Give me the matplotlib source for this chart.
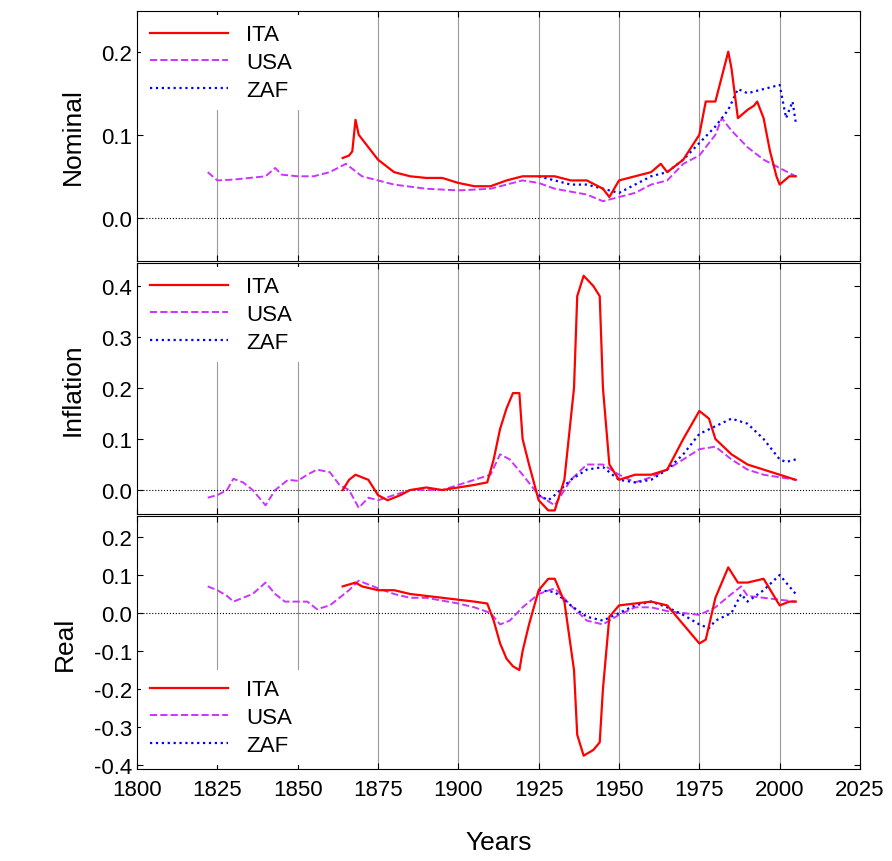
import matplotlib
matplotlib.use("Agg")
import matplotlib.pyplot as plt

plt.rcParams['font.family'] = ['Liberation Sans', 'DejaVu Sans']

# ---- Nominal ----
nom_usa_x = [1822,1825,1830,1835,1840,1843,1845,1850,1855,1860,1865,1870,1875,1880,1890,1900,1910,1920,1925,1930,1940,1945,1950,1955,1960,1965,1970,1975,1980,1982,1985,1990,1995,2000,2005]
nom_usa_y = [0.055,0.045,0.046,0.048,0.05,0.06,0.052,0.05,0.05,0.055,0.065,0.05,0.045,0.04,0.035,0.033,0.035,0.045,0.042,0.035,0.028,0.02,0.025,0.03,0.04,0.045,0.065,0.075,0.1,0.12,0.105,0.085,0.07,0.06,0.05]
nom_ita_x = [1864,1866,1867,1868,1869,1870,1875,1880,1885,1890,1895,1900,1905,1910,1915,1920,1925,1930,1935,1940,1945,1947,1950,1955,1960,1963,1965,1970,1975,1977,1980,1982,1984,1985,1987,1990,1992,1993,1995,1997,1999,2000,2003,2005]
nom_ita_y = [0.072,0.075,0.08,0.118,0.1,0.095,0.07,0.055,0.05,0.048,0.048,0.042,0.038,0.038,0.045,0.05,0.05,0.05,0.045,0.045,0.035,0.025,0.045,0.05,0.055,0.065,0.055,0.07,0.1,0.14,0.14,0.17,0.2,0.18,0.12,0.13,0.135,0.14,0.12,0.08,0.05,0.04,0.05,0.05]
nom_zaf_x = [1925,1930,1935,1940,1945,1950,1955,1960,1965,1970,1975,1980,1984,1987,1990,1995,2000,2002,2004,2005]
nom_zaf_y = [0.05,0.045,0.04,0.04,0.035,0.03,0.04,0.05,0.055,0.07,0.09,0.11,0.13,0.155,0.15,0.155,0.16,0.12,0.14,0.115]

# ---- Inflation ----
inf_usa_x = [1822,1825,1828,1830,1833,1836,1840,1843,1847,1850,1853,1856,1860,1863,1866,1869,1872,1875,1880,1885,1890,1895,1900,1905,1910,1913,1916,1920,1925,1930,1935,1940,1945,1950,1955,1960,1965,1970,1975,1980,1985,1990,1995,2000,2005]
inf_usa_y = [-0.015,-0.01,0.0,0.022,0.015,0.0,-0.03,0.0,0.02,0.018,0.03,0.04,0.035,0.01,0.0,-0.035,-0.015,-0.02,-0.01,0.0,0.0,0.0,0.01,0.02,0.03,0.07,0.06,0.03,-0.01,-0.03,0.02,0.05,0.05,0.03,0.015,0.025,0.04,0.06,0.08,0.085,0.06,0.04,0.03,0.025,0.02]
inf_ita_x = [1864,1866,1868,1872,1875,1878,1882,1885,1890,1895,1900,1905,1909,1911,1913,1915,1917,1919,1920,1922,1925,1928,1930,1933,1936,1937,1939,1942,1944,1945,1947,1950,1955,1960,1965,1970,1975,1978,1980,1985,1990,1995,2000,2005]
inf_ita_y = [0.0,0.02,0.03,0.02,-0.01,-0.02,-0.01,0.0,0.005,0.0,0.005,0.01,0.015,0.06,0.12,0.16,0.19,0.19,0.1,0.05,-0.02,-0.04,-0.04,0.02,0.2,0.38,0.42,0.4,0.38,0.2,0.05,0.02,0.03,0.03,0.04,0.1,0.155,0.14,0.1,0.07,0.05,0.04,0.03,0.02]
inf_zaf_x = [1925,1928,1930,1935,1940,1945,1950,1955,1960,1965,1970,1975,1980,1985,1990,1995,2000,2002,2005]
inf_zaf_y = [-0.01,-0.02,-0.01,0.02,0.04,0.045,0.02,0.015,0.02,0.04,0.07,0.11,0.125,0.14,0.13,0.1,0.06,0.055,0.06]

# ---- Real ----
real_usa_x = [1822,1825,1828,1830,1833,1836,1840,1843,1846,1850,1853,1856,1860,1863,1866,1869,1875,1880,1885,1890,1900,1905,1910,1913,1916,1920,1925,1930,1935,1940,1945,1950,1955,1960,1965,1970,1975,1980,1985,1988,1990,1995,2000,2005]
real_usa_y = [0.07,0.06,0.045,0.03,0.04,0.05,0.08,0.05,0.03,0.03,0.03,0.01,0.02,0.04,0.06,0.085,0.065,0.05,0.04,0.04,0.025,0.015,0.0,-0.03,-0.02,0.015,0.05,0.065,0.02,-0.02,-0.03,-0.005,0.015,0.015,0.005,0.0,-0.005,0.015,0.05,0.07,0.045,0.04,0.035,0.03]
real_ita_x = [1864,1868,1870,1875,1880,1885,1890,1900,1905,1909,1911,1913,1915,1917,1919,1920,1922,1925,1928,1930,1933,1936,1937,1939,1942,1944,1945,1947,1950,1955,1960,1965,1970,1975,1977,1980,1984,1987,1990,1995,2000,2003,2005]
real_ita_y = [0.07,0.08,0.07,0.06,0.06,0.05,0.045,0.035,0.03,0.025,-0.02,-0.08,-0.12,-0.14,-0.15,-0.1,-0.03,0.06,0.09,0.09,0.03,-0.15,-0.32,-0.375,-0.36,-0.34,-0.2,-0.01,0.02,0.025,0.03,0.02,-0.03,-0.08,-0.07,0.04,0.12,0.08,0.08,0.09,0.02,0.03,0.03]
real_zaf_x = [1925,1930,1935,1940,1945,1950,1955,1960,1965,1970,1975,1978,1980,1985,1988,1990,1995,2000,2003,2005]
real_zaf_y = [0.06,0.055,0.02,-0.01,-0.02,0.0,0.02,0.03,0.015,-0.005,-0.03,-0.04,-0.02,0.0,0.05,0.03,0.06,0.1,0.07,0.05]

panels = [
    ("Nominal", (nom_ita_x, nom_ita_y), (nom_usa_x, nom_usa_y), (nom_zaf_x, nom_zaf_y), (-0.052, 0.249), [0.0, 0.1, 0.2], "upper left"),
    ("Inflation", (inf_ita_x, inf_ita_y), (inf_usa_x, inf_usa_y), (inf_zaf_x, inf_zaf_y), (-0.047, 0.445), [0.0, 0.1, 0.2, 0.3, 0.4], "upper left"),
    ("Real", (real_ita_x, real_ita_y), (real_usa_x, real_usa_y), (real_zaf_x, real_zaf_y), (-0.41, 0.255), [-0.4,-0.3,-0.2,-0.1,0.0,0.1,0.2], "lower left"),
]

fig = plt.figure(figsize=(8.92, 8.62), dpi=100)
W, H = 892, 862
tops = [12, 264, 517]
bots = [262, 515, 770]
for i, (name, ita, usa, zaf, ylim, yt, loc) in enumerate(panels):
    ax = fig.add_axes([137/W, 1 - bots[i]/H, (860-137)/W, (bots[i]-tops[i])/H])
    for yr in range(1825, 2001, 25):
        ax.axvline(yr, color='#999999', lw=0.8, zorder=0)
    ax.axhline(0, color='black', lw=0.8, ls=':', zorder=1)
    ax.plot(ita[0], ita[1], color='#ff0000', lw=1.6, ls='-', label='ITA', zorder=3)
    ax.plot(usa[0], usa[1], color='#cc33ff', lw=1.4, ls='--', label='USA', zorder=2)
    ax.plot(zaf[0], zaf[1], color='#0000ff', lw=1.6, ls=':', label='ZAF', zorder=2)
    ax.set_xlim(1800, 2025)
    ax.set_ylim(*ylim)
    ax.set_yticks(yt)
    ax.set_yticklabels([f"{v:.1f}" for v in yt])
    ax.set_xticks(range(1800, 2026, 25))
    ax.tick_params(direction='in', labelsize=16, top=True, right=True, length=4)
    ax.tick_params(axis='x', pad=7)
    if i < 2:
        ax.tick_params(labelbottom=False)
    ax.set_ylabel(name, fontsize=19, labelpad=12)
    leg = ax.legend(loc=loc, fontsize=16, frameon=True, framealpha=1, edgecolor='none',
                    fancybox=False, handlelength=3.5, borderaxespad=0.2, labelspacing=0.3)
    leg.get_frame().set_facecolor('white')
    leg.set_zorder(5)
    if i == 2:
        ax.set_xlabel("Years", fontsize=19, labelpad=22)

fig.savefig("out.png", dpi=100)
